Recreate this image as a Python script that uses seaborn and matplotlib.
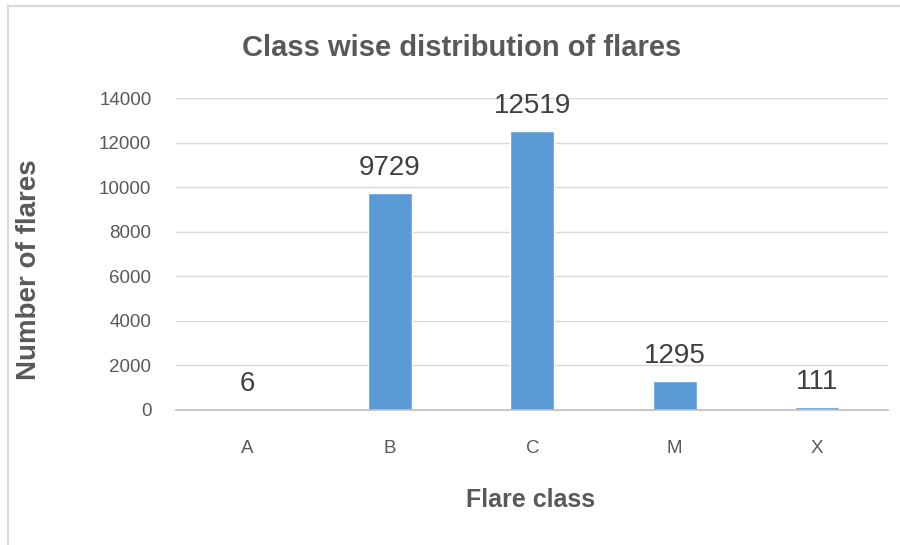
import matplotlib
matplotlib.use("Agg")
import matplotlib.pyplot as plt
from matplotlib.lines import Line2D
import seaborn as sns
import pandas as pd

# data
flare_class = ["A", "B", "C", "M", "X"]
flare_count = [6, 9729, 12519, 1295, 111]

sns.set_style("white")
plt.rcParams['font.family'] = ['Liberation Sans', 'DejaVu Sans']

grey = "#595959"
df = pd.DataFrame({"cls": flare_class, "n": flare_count})

fig = plt.figure(figsize=(9, 5.45), dpi=100)
ax = fig.add_axes([0.196, 0.248, 0.791, 0.572])

sns.barplot(data=df, x="cls", y="n", color="#5B9BD5", width=0.31,
            saturation=1, ax=ax)

ax.set_ylim(0, 14000)
ax.set_yticks(range(0, 14001, 2000))
ax.yaxis.grid(True, color="#d9d9d9", linewidth=1)
ax.set_axisbelow(True)
for s in ["top", "right", "left"]:
    ax.spines[s].set_visible(False)
ax.spines["bottom"].set_color("#bfbfbf")
ax.spines["bottom"].set_linewidth(1.2)
ax.tick_params(axis="both", length=0, labelsize=13.5, colors=grey)
ax.tick_params(axis="x", pad=22)
ax.tick_params(axis="y", pad=18)
ax.set_xlabel("")
ax.set_ylabel("")

ax.bar_label(ax.containers[0], labels=[str(v) for v in flare_count],
             padding=9, fontsize=20, color="#404040")

fig.text(0.513, 0.912, "Class wise distribution of flares", ha="center",
         va="center", fontsize=21, fontweight="bold", color=grey)
fig.text(0.032, 0.505, "Number of flares", rotation=90, ha="center",
         va="center", fontsize=20, fontweight="bold", color=grey)
fig.text(0.59, 0.083, "Flare class", ha="center", va="center",
         fontsize=18, fontweight="bold", color=grey)

# outer chart frame (top and left edges only are in view)
fx, fy = 8 / 900, 1 - 6 / 545
fig.add_artist(Line2D([fx, 1.0], [fy, fy], transform=fig.transFigure,
                      color="#d9d9d9", linewidth=1.5))
fig.add_artist(Line2D([fx, fx], [0, fy], transform=fig.transFigure,
                      color="#d9d9d9", linewidth=1.5))

fig.savefig("out.png", dpi=100)
